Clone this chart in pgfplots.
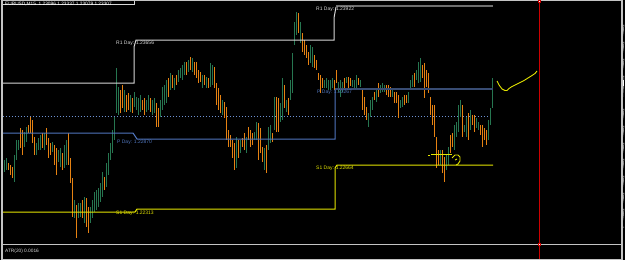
\documentclass[border=0pt]{standalone}
\usepackage{pgfplots}
\pgfplotsset{compat=1.18}
\usepackage{pgfplotstable}
\usepackage{fontspec}
\setmainfont{Liberation Sans}
\definecolor{barG}{RGB}{38,118,80}
\definecolor{barO}{RGB}{230,130,18}
\definecolor{frameG}{RGB}{196,196,196}
\definecolor{lvlR}{RGB}{215,215,215}
\definecolor{lvlRd}{RGB}{110,110,110}
\definecolor{lvlP}{RGB}{80,118,190}
\definecolor{lvlPd}{RGB}{56,76,115}
\definecolor{lvlS}{RGB}{228,228,0}
\definecolor{bidB}{RGB}{110,145,210}
\definecolor{redL}{RGB}{205,0,0}

\pgfplotstableread{
x t b
4 160 172
6 158 170
14 155 182
16 140 160
18 140 150
24 132 147
26 127 142
36 143 155
38 138 150
40 135 150
44 133 150
52 142 152
58 150 162
60 148 167
64 145 168
66 140 165
74 200 218
78 203 218
80 203 217
84 197 223
90 207 223
92 200 218
94 192 212
96 190 210
98 188 207
100 183 202
102 172 197
106 163 187
108 153 175
110 143 160
112 130 153
114 117 140
116 68 113
118 87 115
124 90 112
130 95 112
134 92 107
136 97 110
138 98 115
140 95 112
146 100 112
148 95 110
152 100 115
154 98 113
160 100 117
162 87 110
164 85 105
166 80 103
170 73 90
174 78 90
178 70 82
180 68 78
182 65 80
184 62 75
188 60 72
192 58 72
202 75 88
206 77 88
210 63 87
212 65 85
222 100 115
236 137 168
240 140 153
246 137 153
254 132 140
256 122 140
264 148 170
268 127 150
270 125 143
274 97 130
280 103 122
282 78 120
286 100 112
290 80 100
292 53 93
294 22 45
296 12 35
300 22 43
310 45 63
312 47 67
324 80 88
326 78 88
328 80 90
330 80 90
332 78 88
338 82 92
340 80 97
342 82 92
346 77 83
352 80 87
354 80 90
356 75 88
360 80 87
368 113 127
370 100 117
372 97 110
376 90 102
380 85 93
382 83 92
384 85 92
392 90 97
400 100 108
402 97 107
408 92 103
410 80 88
412 75 87
416 70 80
418 62 83
420 58 82
440 150 165
446 155 170
448 147 165
454 125 150
456 122 137
458 105 132
460 100 117
464 125 132
466 117 137
470 110 130
476 118 128
478 122 130
488 120 140
490 108 125
492 78 108
}\greenbars

\pgfplotstableread{
x t b
8 163 170
10 165 175
12 167 178
20 128 148
22 130 155
28 125 133
30 117 133
32 120 143
34 137 155
42 133 148
46 128 145
48 138 158
50 143 155
54 145 165
56 148 175
62 153 170
68 133 165
70 158 183
72 178 217
76 205 238
82 200 218
86 198 227
88 207 233
104 177 190
120 90 113
122 85 108
126 95 112
128 93 110
132 98 113
142 100 110
144 98 115
150 98 112
156 103 127
158 108 127
168 78 97
172 75 88
176 75 85
186 62 75
190 57 70
194 62 75
196 62 78
198 70 83
200 72 82
204 75 85
208 78 88
214 67 88
216 83 105
218 88 110
220 95 113
224 102 118
226 107 140
228 130 147
230 135 147
232 140 158
234 143 170
238 140 158
242 138 147
244 133 150
248 127 140
250 130 147
252 133 145
258 123 160
260 128 153
262 147 162
266 145 173
272 133 142
276 97 132
278 98 132
284 85 108
288 98 115
298 13 33
302 33 52
304 40 55
306 45 58
308 52 65
314 55 68
316 60 70
318 73 80
320 75 93
322 78 88
334 80 90
336 70 83
344 78 88
348 77 88
350 78 86
358 78 85
362 90 110
364 97 115
366 107 120
374 92 100
378 83 97
386 85 95
388 85 97
390 87 97
394 92 103
396 92 103
398 95 118
404 95 105
406 95 103
414 73 87
422 65 78
424 63 98
426 70 87
428 73 93
430 97 115
432 105 125
434 105 137
436 137 168
438 150 165
442 150 173
444 157 182
450 135 153
452 133 147
462 105 137
468 113 140
472 115 125
474 115 132
480 125 135
482 125 147
484 128 140
486 130 145
}\orangebars

\begin{document}
\begin{tikzpicture}
\useasboundingbox (0,0) rectangle (625bp,260bp);
\begin{axis}[
  at={(0,0)}, anchor=south west,
  scale only axis, width=625bp, height=260bp,
  xmin=0, xmax=625, ymin=0, ymax=260, y dir=reverse,
  axis line style={draw=none}, ticks=none,
  clip=true,
]
\fill[black] (rel axis cs:0,0) rectangle (rel axis cs:1,1);

% bid dotted line
\addplot[bidB, line width=0.9pt, dash pattern=on 1pt off 2pt, forget plot] coordinates {(3,116) (493,116)};

% bars
\addplot[draw=none, mark=none, forget plot,
  error bars/.cd, y dir=plus, y explicit, error mark=none,
  error bar style={draw=barG, line width=1pt}]
  table[x=x, y=t, y error expr=\thisrow{b}-\thisrow{t}] {\greenbars};
\addplot[draw=none, mark=none, forget plot,
  error bars/.cd, y dir=plus, y explicit, error mark=none,
  error bar style={draw=barO, line width=1pt}]
  table[x=x, y=t, y error expr=\thisrow{b}-\thisrow{t}] {\orangebars};

% R1 levels
\addplot[lvlR, line width=1pt, forget plot] coordinates {(3,83) (134,83) (134,47) (136,40) (334,40) (334,18) (336,7)};
\addplot[lvlRd, line width=1.7pt, forget plot] coordinates {(336,6) (493,6)};
% title box line
\addplot[lvlR, line width=1pt, forget plot] coordinates {(3,4) (134,4) (134,0)};
% P levels
\addplot[lvlP, line width=1pt, forget plot] coordinates {(3,133) (133,133) (137,139) (335,139) (335,89)};
\addplot[lvlPd, line width=2pt, forget plot] coordinates {(335,89) (493,89)};
% S1 levels
\addplot[lvlS, line width=1pt, forget plot] coordinates {(3,212) (135,212) (137,209) (335,209) (335,168) (337,165) (493,165)};

% hand drawn yellow marks
\addplot[lvlS, line width=0.9pt, forget plot] coordinates {(497,81) (499,85) (502,89) (505,90.5) (507,90.5) (509,88.5) (512,86.5) (516,84.5) (520,82.5) (524,80.5) (528,78) (532,75.5) (535,73.5) (537,71)};
\addplot[lvlS, line width=0.9pt, forget plot] coordinates {(431,154) (452,154)};
\addplot[lvlS, line width=0.9pt, forget plot] coordinates {(428,155) (430,155)};
\addplot[lvlS, line width=0.9pt, forget plot] coordinates {(452,158) (455,155) (458,155) (460,157) (460,161) (458,164) (456,165)};
\addplot[lvlS, line width=0.9pt, forget plot] coordinates {(455,160) (457,159)};

% red vertical line
\addplot[redL, line width=1pt, forget plot] coordinates {(539,0) (539,260)};

% frame
\addplot[frameG, line width=1.4pt, forget plot] coordinates {(2,0.7) (622,0.7)};
\addplot[frameG, line width=1.4pt, forget plot] coordinates {(2,0) (2,260)};
\addplot[frameG, line width=1.4pt, forget plot] coordinates {(622,0) (622,260)};
\addplot[frameG, line width=1.6pt, forget plot] coordinates {(2,244.3) (622,244.3)};
\addplot[frameG, line width=1.4pt, forget plot] coordinates {(2,259.3) (622,259.3)};
% right scale ticks
\addplot[frameG, line width=0.5pt, forget plot] coordinates {(622,25) (624,25) (nan,nan) (622,42) (624,42) (nan,nan) (622,59) (624,59) (nan,nan) (622,76) (624,76) (nan,nan) (622,109) (624,109) (nan,nan) (622,126) (624,126) (nan,nan) (622,143) (624,143) (nan,nan) (622,159) (624,159) (nan,nan) (622,176) (624,176) (nan,nan) (622,193) (624,193) (nan,nan) (622,209) (624,209) (nan,nan) (622,227) (624,227)};
\addplot[white, line width=1.8pt, forget plot] coordinates {(623.5,80) (623.5,86)};
% white squares on red line
\addplot[only marks, mark=square*, mark size=1pt, mark options={fill=white, draw=redL, line width=0.3pt}, forget plot] coordinates {(539,1.5) (539,244.3)};

% texts
\node[anchor=west, text=white, inner sep=0pt, font=\fontsize{4.8}{5}\selectfont] at (axis cs:5,4) {EURUSD,M15\ \ 1.23096 1.23337 1.23079 1.23307};
\node[anchor=north west, text=lvlR, inner sep=0pt, font=\fontsize{5}{6}\selectfont] at (axis cs:116,40.5) {R1 Day: 1.23656};
\node[anchor=north west, text=lvlP, inner sep=0pt, font=\fontsize{5}{6}\selectfont] at (axis cs:117,139.5) {P Day: 1.22870};
\node[anchor=north west, text=lvlS, inner sep=0pt, font=\fontsize{5}{6}\selectfont] at (axis cs:116,210.5) {S1 Day: 1.22313};
\node[anchor=north west, text=lvlR, inner sep=0pt, font=\fontsize{5}{6}\selectfont] at (axis cs:316,6.5) {R1 Day: 1.23922};
\node[anchor=north west, text=lvlP, inner sep=0pt, font=\fontsize{5}{6}\selectfont] at (axis cs:317,89.5) {P Day: 1.23267};
\node[anchor=north west, text=lvlS, inner sep=0pt, font=\fontsize{5}{6}\selectfont] at (axis cs:316,165.5) {S1 Day: 1.22664};
\node[anchor=west, text=lvlR, inner sep=0pt, font=\fontsize{4.8}{5}\selectfont] at (axis cs:5,251.5) {ATR(20) 0.0016};
\end{axis}
\end{tikzpicture}
\end{document}
